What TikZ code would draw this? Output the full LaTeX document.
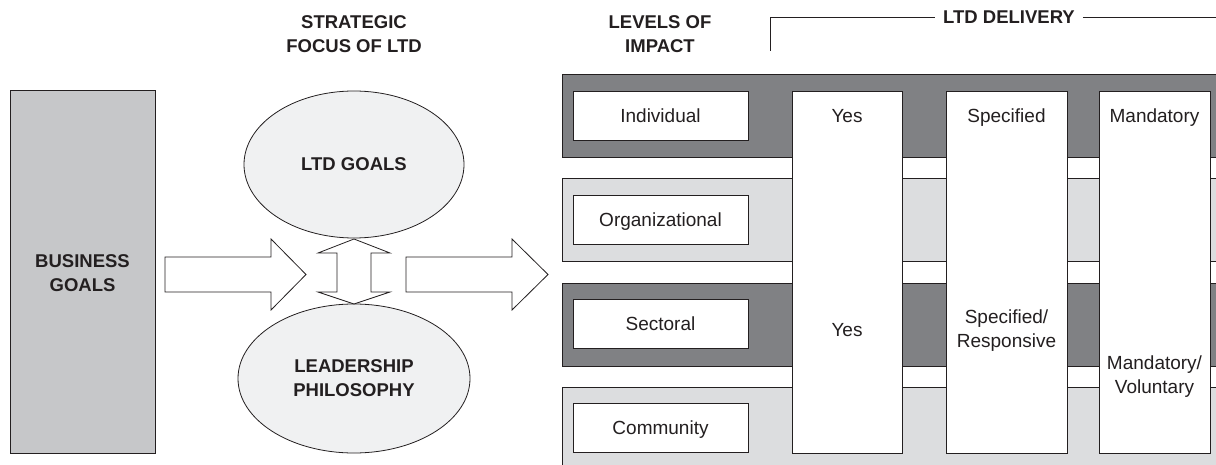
\documentclass[tikz,border=0pt]{standalone}
\usepackage{fontspec}
\setmainfont{Liberation Sans}
\usetikzlibrary{shapes.geometric}
\definecolor{ink}{HTML}{231F20}
\definecolor{darkband}{HTML}{808184}
\definecolor{lightband}{HTML}{DCDDDF}
\definecolor{bizgray}{HTML}{C6C7C9}
\definecolor{ellfill}{HTML}{F0F1F2}
\begin{document}
\begin{tikzpicture}[x=1pt,y=-1pt,
  every node/.style={text=ink},
  headtxt/.style={font=\fontsize{18.5}{24}\selectfont\bfseries, align=center, inner sep=0pt},
  lbl/.style={font=\fontsize{19}{24}\selectfont, align=center, inner sep=0pt},
  onel/.style={text height=13.6pt, text depth=0pt},
  outl/.style={draw=ink, line width=0.8pt},
  boxr/.style={outl, rectangle, inner sep=0pt},
  bandd/.style={boxr, fill=darkband, minimum width=668pt},
  bandl/.style={boxr, fill=lightband, minimum width=668pt},
  levelbox/.style={boxr, fill=white, minimum width=175pt, minimum height=49pt, font=\fontsize{19}{24}\selectfont, onel},
  colbox/.style={boxr, fill=white, minimum height=362pt},
  ell/.style={outl, ellipse, fill=ellfill, inner sep=0pt, font=\fontsize{18.5}{24}\selectfont\bfseries, align=center},
  blockarrow/.style={outl, fill=white, line join=miter},
]
\useasboundingbox (0,0) rectangle (1216,465);

% headings
\node[headtxt] (hstrat) at (354,34) {STRATEGIC\\FOCUS OF LTD};
\node[headtxt] (hlevels) at (660,34) {LEVELS OF\\IMPACT};
\node[headtxt, inner xsep=8pt] (hdeliv) at (1009,17) {LTD DELIVERY};
\coordinate (bkfoot) at (770,51);
\coordinate (bkend) at (1216,17);
\draw[ink, line width=0.8pt] (bkfoot) |- (hdeliv.west);
\draw[ink, line width=0.8pt] (hdeliv.east) -- (bkend);

% business goals
\node[boxr, fill=bizgray, minimum width=145pt, minimum height=363pt] (biz) at (82.5,271.5) {};
\node[headtxt] (biztxt) at (82.5,273) {BUSINESS\\GOALS};

% ellipses
\node[ell, minimum width=220pt, minimum height=147pt] (goals) at (354,164.5) {LTD GOALS};
\node[ell, minimum width=232pt, minimum height=149pt] (phil) at (354,378.5) {LEADERSHIP\\PHILOSOPHY};

% block arrows
\draw[blockarrow] (165,257) -- (271,257) -- (271,239) -- (306,274.5) -- (271,310) -- (271,292) -- (165,292) -- cycle;
\draw[blockarrow] (406,257) -- (512,257) -- (512,239) -- (548,274.5) -- (512,310) -- (512,292) -- (406,292) -- cycle;
\draw[blockarrow] (354,239) -- (390,253) -- (371,253) -- (371,292) -- (390,292) -- (354,304)
   -- (318,292) -- (337,292) -- (337,253) -- (318,253) -- cycle;

% bands
\node[bandd, minimum height=83pt] (band1) at (896,115.5) {};
\node[bandl, minimum height=83pt] (band2) at (896,219.5) {};
\node[bandd, minimum height=83pt] (band3) at (896,324.5) {};
\node[bandl, minimum height=93pt] (band4) at (896,433.5) {};

% level boxes
\node[levelbox] (lvind) at (660.5,115.5) {Individual};
\node[levelbox] (lvorg) at (660.5,219.5) {Organizational};
\node[levelbox] (lvsec) at (660.5,323.5) {Sectoral};
\node[levelbox] (lvcom) at (660.5,428) {Community};

% delivery columns
\node[colbox, minimum width=110pt] (colyes) at (847,272) {};
\node[colbox, minimum width=121pt] (colspec) at (1006.5,272) {};
\node[colbox, minimum width=111pt] (colmand) at (1154.5,272) {};

\node[lbl, onel] (yes1) at (847,116) {Yes};
\node[lbl, onel] (yes2) at (847,330) {Yes};
\node[lbl, onel] (spec1) at (1006.5,116) {Specified};
\node[lbl] (spec2) at (1006.5,331) {Specified/\\Responsive};
\node[lbl, onel] (mand1) at (1154.5,116) {Mandatory};
\node[lbl] (mand2) at (1154.5,376.5) {Mandatory/\\Voluntary};
\end{tikzpicture}
\end{document}
